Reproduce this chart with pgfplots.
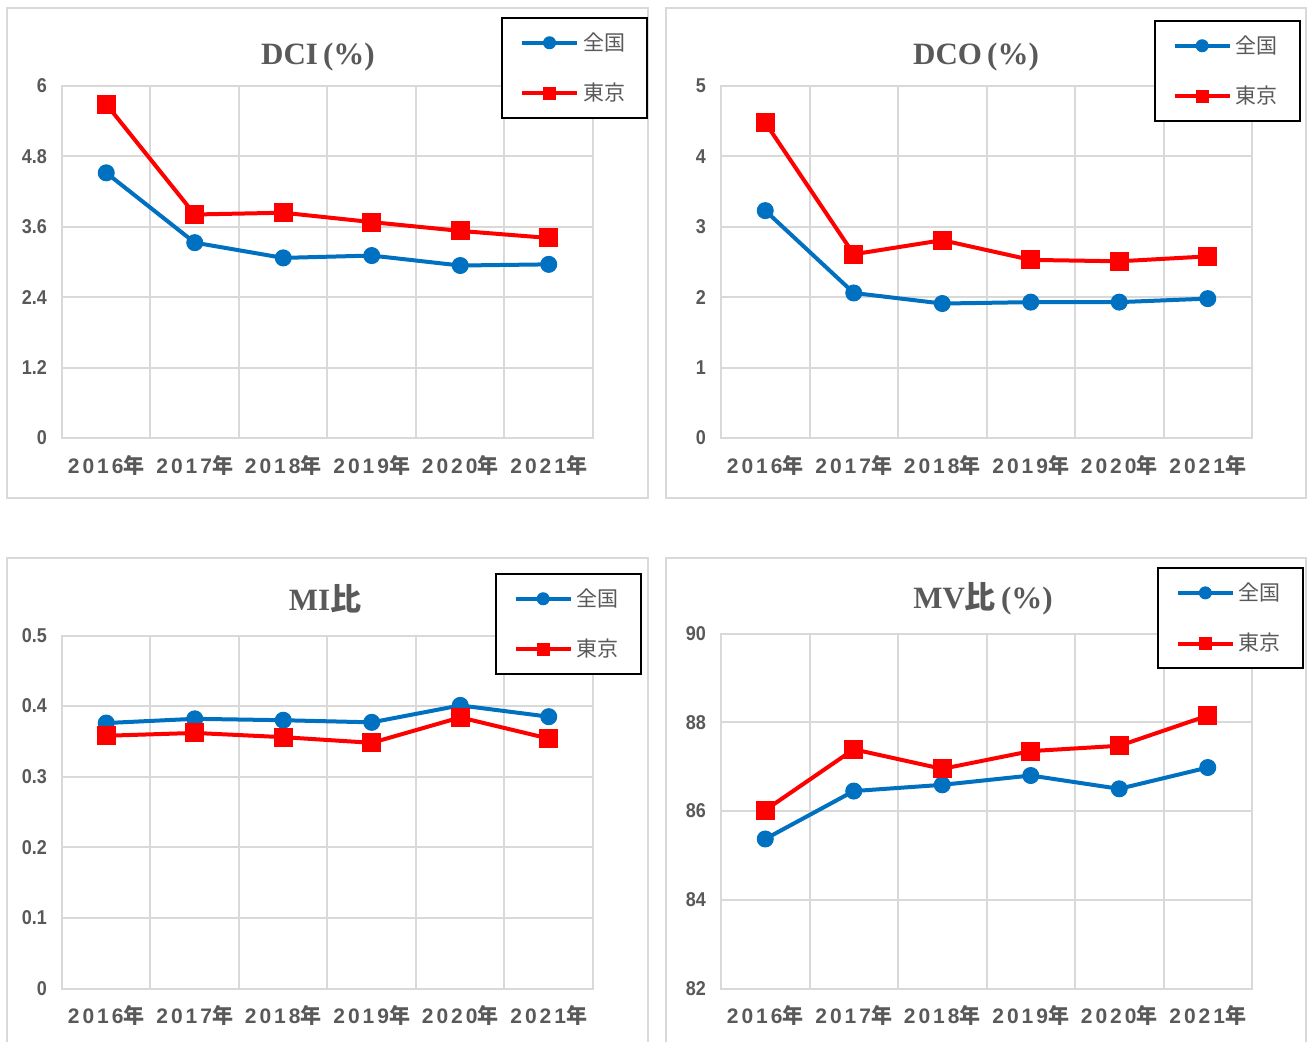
\documentclass[border=0pt]{standalone}
\usepackage{fontspec}
\usepackage{pgfplots}
\pgfplotsset{compat=1.18}
\setmainfont{Liberation Sans}
\newfontfamily\cjk{Noto Sans CJK JP}
\newfontfamily\serifb{Liberation Serif}
\newfontfamily\xtfont{Liberation Sans}[LetterSpace=14]
\newfontfamily\ytfont{Liberation Sans}[FakeStretch=0.9]
\definecolor{txt}{HTML}{595959}
\definecolor{gridc}{HTML}{D9D9D9}
\definecolor{cblue}{HTML}{0070C0}
\definecolor{cred}{HTML}{FF0000}

\pgfplotsset{
  panel/.style={
    scale only axis, width=265.5pt, height=176pt,
    xmin=-0.5, xmax=5.5, xtick={0,...,5},
    xticklabels={2016{\cjk 年},2017{\cjk 年},2018{\cjk 年},2019{\cjk 年},2020{\cjk 年},2021{\cjk 年}},
    minor xtick={0.5,1.5,2.5,3.5,4.5}, xminorgrids, ymajorgrids,
    grid style={gridc, line width=1pt},
    minor grid style={gridc, line width=1pt},
    axis line style={gridc, line width=1pt},
    major tick length=0pt, minor tick length=0pt,
    tick label style={text=txt},
    xticklabel style={font=\xtfont\bfseries\fontsize{10.5}{12}\selectfont, yshift=-5pt},
    yticklabel style={font=\ytfont\bfseries\fontsize{10}{11}\selectfont, xshift=-4pt},
    /pgf/number format/assume math mode=true,
    legend cell align=left,
    legend image code/.code={\draw[mark repeat=2,mark phase=2,#1,mark size=3pt] plot coordinates {(0pt,0pt) (13.75pt,0pt) (27.5pt,0pt)};},
    legend style={anchor=north west, draw=black, line width=0.9pt, fill=white,
      font=\cjk\fontsize{10.5}{12}\selectfont, text=txt, row sep=11pt,
      inner xsep=9pt, inner ysep=5.25pt, nodes={inner sep=2pt}},
    clip=false,
  },
  zen/.style={cblue, line width=2pt, mark=*, mark size=4pt, mark options={solid, fill=cblue, draw=cblue, line width=0.5pt}},
  tok/.style={cred, line width=2pt, mark=square*, mark size=4.5pt, mark options={solid, fill=cred, draw=cred, line width=0.5pt}},
}

\begin{document}
\begin{tikzpicture}
\useasboundingbox (0,0) rectangle (655.5pt,520.5pt);
\fill[white] (0,0) rectangle (655.5pt,520.5pt);
\draw[gridc, line width=1pt] (3.5pt,271.5pt) rectangle (324pt,516.5pt);
\draw[gridc, line width=1pt] (333pt,271.5pt) rectangle (653pt,516.5pt);
\draw[gridc, line width=1pt] (3.5pt,-3pt) rectangle (324pt,241.5pt);
\draw[gridc, line width=1pt] (333pt,-3pt) rectangle (653pt,241.5pt);

% DCI
\begin{axis}[panel, at={(31pt,301.5pt)}, anchor=south west,
  ymin=0, ymax=6, ytick={0,1.2,2.4,3.6,4.8,6},
  legend style={at={(axis description cs:0.827,1.196)}}]
\addplot[zen] coordinates {(0,4.52) (1,3.33) (2,3.07) (3,3.11) (4,2.94) (5,2.96)};
\addlegendentry{全国}
\addplot[tok] coordinates {(0,5.69) (1,3.81) (2,3.84) (3,3.68) (4,3.53) (5,3.41)};
\addlegendentry{東京}
\end{axis}

% DCO
\begin{axis}[panel, at={(360.5pt,301.5pt)}, anchor=south west,
  ymin=0, ymax=5, ytick={0,1,2,3,4,5},
  legend style={at={(axis description cs:0.815,1.1875)}}]
\addplot[zen] coordinates {(0,3.23) (1,2.06) (2,1.91) (3,1.93) (4,1.93) (5,1.98)};
\addlegendentry{全国}
\addplot[tok] coordinates {(0,4.48) (1,2.61) (2,2.81) (3,2.53) (4,2.51) (5,2.58)};
\addlegendentry{東京}
\end{axis}

% MI
\begin{axis}[panel, at={(31pt,26.25pt)}, anchor=south west, height=176.5pt,
  ymin=0, ymax=0.5, ytick={0,0.1,0.2,0.3,0.4,0.5},
  legend style={at={(axis description cs:0.815,1.177)}}]
\addplot[zen] coordinates {(0,0.376) (1,0.382) (2,0.380) (3,0.377) (4,0.401) (5,0.385)};
\addlegendentry{全国}
\addplot[tok] coordinates {(0,0.358) (1,0.362) (2,0.356) (3,0.348) (4,0.384) (5,0.354)};
\addlegendentry{東京}
\end{axis}

% MV
\begin{axis}[panel, at={(360.5pt,26.25pt)}, anchor=south west, height=177.5pt,
  ymin=82, ymax=90, ytick={82,84,86,88,90},
  legend style={at={(axis description cs:0.821,1.187)}}]
\addplot[zen] coordinates {(0,85.37) (1,86.45) (2,86.59) (3,86.80) (4,86.50) (5,86.98)};
\addlegendentry{全国}
\addplot[tok] coordinates {(0,86.02) (1,87.39) (2,86.95) (3,87.35) (4,87.47) (5,88.15)};
\addlegendentry{東京}
\end{axis}

\begin{scope}[every node/.style={text=txt, font=\serifb\bfseries\fontsize{15.5}{18}\selectfont}]
\node at (159pt,492pt) {DCI\,(\%)};
\node at (488pt,492pt) {DCO\,(\%)};
\node at (162.5pt,221pt) {MI{\cjk\bfseries 比}};
\node at (491.5pt,221pt) {MV{\cjk\bfseries 比}\,(\%)};
\end{scope}
\end{tikzpicture}
\end{document}
